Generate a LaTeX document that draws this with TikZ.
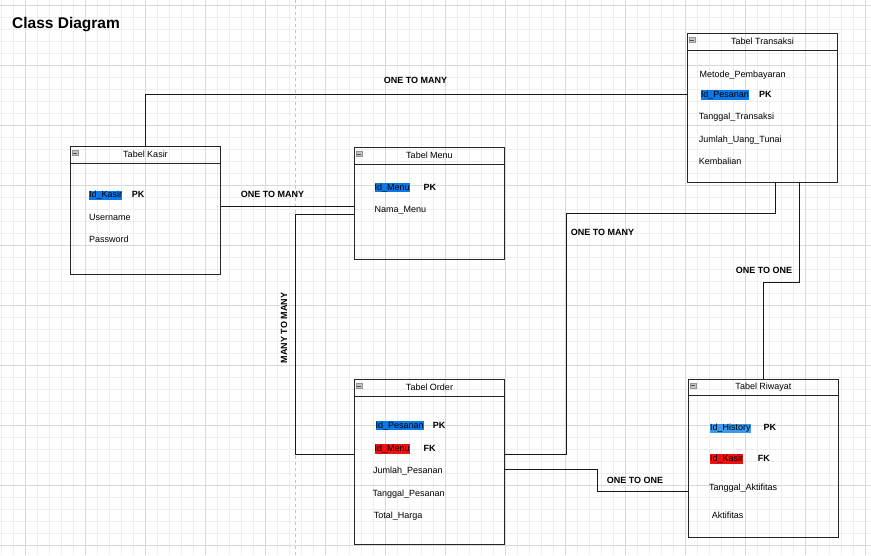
\documentclass[tikz,border=0pt]{standalone}
\usepackage{fontspec}
\setmainfont{Liberation Sans}
\definecolor{gridminor}{HTML}{EEEEEE}
\definecolor{gridmajor}{HTML}{D9D9D9}
\definecolor{pageline}{HTML}{C4C4C4}
\definecolor{selblue}{HTML}{0A78E6}
\definecolor{lightsel}{HTML}{3A9AEE}
\definecolor{fkred}{HTML}{F01010}
\begin{document}
\begin{tikzpicture}[x=1pt,y=-1pt,
  tablebox/.style={draw=black!85,line width=0.9pt,minimum width=150pt,inner sep=0pt},
  headtext/.style={font=\fontsize{9}{10}\selectfont,inner sep=0pt},
  field/.style={anchor=west,inner sep=0pt,text height=7.2pt,text depth=2.1pt,font=\fontsize{9}{10}\selectfont},
  keytag/.style={field,font=\bfseries\fontsize{9}{10}\selectfont},
  pkcell/.style={field,fill=selblue},
  pklight/.style={field,fill=lightsel},
  fkcell/.style={field,fill=fkred},
  link/.style={draw=black!90,line width=0.9pt},
  rel/.style={font=\bfseries\fontsize{9}{10}\selectfont,inner sep=1pt},
  minusicon/.style={draw=gray!85,fill=gray!45,line width=0.5pt,minimum width=6pt,minimum height=5pt,inner sep=0pt}
]
\useasboundingbox (0,0) rectangle (871,555);
\fill[white] (0,0) rectangle (871,555);

% background grid
\foreach \x in {1,13,...,871} \draw[gridminor,line width=0.6pt] (\x,0) -- (\x,555);
\foreach \y in {5,17,...,555} \draw[gridminor,line width=0.6pt] (0,\y) -- (871,\y);
\foreach \x in {25,85,...,871} \draw[gridmajor,line width=0.7pt] (\x,0) -- (\x,555);
\foreach \y in {5,65,...,555} \draw[gridmajor,line width=0.7pt] (0,\y) -- (871,\y);
% page break
\draw[pageline,line width=0.8pt,dash pattern=on 3pt off 3pt] (295.5,0) -- (295.5,555);

% title
\node[anchor=west,inner sep=0pt,font=\bfseries\fontsize{15.5}{17}\selectfont] (title) at (12,24.3) {Class Diagram};

% tables
\node[tablebox,minimum height=127.5pt] (kasir) at (145.5,210.25) {};
\node[tablebox,minimum height=111.5pt] (menu) at (429.5,203.25) {};
\node[tablebox,minimum height=149pt] (transaksi) at (762.5,108) {};
\node[tablebox,minimum height=164.5pt] (order) at (429.5,461.75) {};
\node[tablebox,minimum height=158pt] (riwayat) at (763.5,458) {};

\foreach \t/\name in {kasir/Tabel Kasir,menu/Tabel Menu,transaksi/Tabel Transaksi,order/Tabel Order,riwayat/Tabel Riwayat}{
  \draw[black!85,line width=0.9pt] ([yshift=-17pt]\t.north west) -- ([yshift=-17pt]\t.north east);
  \node[headtext] (\t-title) at ([yshift=-8.7pt]\t.north) {\name};
  \node[minusicon] (\t-icon) at ([xshift=5pt,yshift=-7pt]\t.north west) {};
  \draw[black!70,line width=0.6pt] ([xshift=-1.8pt]\t-icon.center) -- ([xshift=1.8pt]\t-icon.center);
}

% Tabel Kasir fields
\node[pkcell] (kasir-id) at (89,195.3) {Id\_Kasir};
\node[keytag] (kasir-pk) at (131.7,195.3) {PK};
\node[field] (kasir-user) at (89,218) {Username};
\node[field] (kasir-pass) at (89,239.5) {Password};

% Tabel Menu fields
\node[pkcell] (menu-id) at (374.3,187.7) {Id\_Menu};
\node[keytag] (menu-pk) at (423.3,187.7) {PK};
\node[field] (menu-nama) at (374.3,210) {Nama\_Menu};

% Tabel Transaksi fields
\node[field] (tr-metode) at (699.3,75) {Metode\_Pembayaran};
\node[pkcell] (tr-id) at (700.7,95) {Id\_Pesanan};
\node[keytag] (tr-pk) at (759,95) {PK};
\node[field] (tr-tgl) at (698.7,116.7) {Tanggal\_Transaksi};
\node[field] (tr-jumlah) at (698.7,140) {Jumlah\_Uang\_Tunai};
\node[field] (tr-kembali) at (698.7,161.7) {Kembalian};

% Tabel Order fields
\node[pkcell] (or-id) at (375.3,425.7) {Id\_Pesanan};
\node[keytag] (or-pk) at (432.7,425.7) {PK};
\node[fkcell] (or-menu) at (374.3,449) {Id\_Menu};
\node[keytag] (or-fk) at (423.3,449) {FK};
\node[field] (or-jumlah) at (373,470.7) {Jumlah\_Pesanan};
\node[field] (or-tgl) at (372.3,494) {Tanggal\_Pesanan};
\node[field] (or-total) at (373.7,515.7) {Total\_Harga};

% Tabel Riwayat fields
\node[pklight] (rw-id) at (710,428.3) {Id\_History};
\node[keytag] (rw-pk) at (763.3,428.3) {PK};
\node[fkcell] (rw-kasir) at (710,459) {Id\_Kasir};
\node[keytag] (rw-fk) at (757.7,459) {FK};
\node[field] (rw-tgl) at (709,487.7) {Tanggal\_Aktifitas};
\node[field] (rw-akt) at (711.7,515.7) {Aktifitas};

% relations
\draw[link] (kasir.north) |- ([yshift=13.25pt]transaksi.west);
\draw[link] ([yshift=3.5pt]kasir.east) -- ([yshift=-3.5pt]menu.west);
\draw[link] ([yshift=-11pt]menu.west) -- ++(-59,0) |- ([yshift=7.5pt]order.west);
\draw[link] ([yshift=7.5pt]order.east) -- ++(61.5,0) -- ++(0,-241.25) -| ([xshift=13pt]transaksi.south);
\draw[link] ([yshift=-7.5pt]order.east) -- ++(92.75,0) |- ([yshift=-33.75pt]riwayat.west);
\draw[link] ([xshift=37pt]transaksi.south) -- ++(0,99) -| (riwayat.north);

% relation labels
\node[rel] (lbl-kt) at (415.5,80) {ONE TO MANY};
\node[rel] (lbl-km) at (272.5,194) {ONE TO MANY};
\node[rel,rotate=90] (lbl-mo) at (284,328) {MANY TO MANY};
\node[rel] (lbl-ot) at (602.5,232.5) {ONE TO MANY};
\node[rel] (lbl-tr) at (764,270) {ONE TO ONE};
\node[rel] (lbl-or) at (635,480) {ONE TO ONE};
\end{tikzpicture}
\end{document}
